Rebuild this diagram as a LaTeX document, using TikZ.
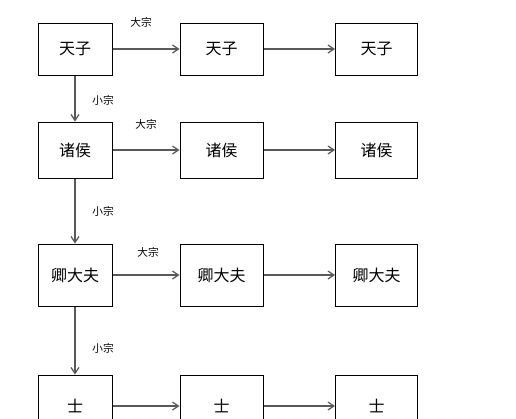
\documentclass[tikz,border=0pt]{standalone}
\usepackage{fontspec}
\newfontfamily\cjk{Noto Sans CJK SC}
\usetikzlibrary{arrows.meta}

\begin{document}
\begin{tikzpicture}[x=0.75pt,y=-0.75pt,
  rank/.style={draw,line width=0.75pt,inner sep=0pt,font=\cjk\fontsize{12}{14}\selectfont},
  link/.style={draw=black!65,line width=0.9pt,-{Straight Barb[length=4.5pt,width=6pt]}},
  tag/.style={font=\cjk\fontsize{8}{10}\selectfont}]
\clip (0,0) rectangle (516,418);
\fill[white] (0,0) rectangle (516,418);

\foreach \r/\y/\h/\t in {1/49/52/天子, 2/150/56/诸侯, 3/275/62/卿大夫, 4/406/62/士}{
    \node[rank, minimum width=74*0.75pt, minimum height=\h*0.75pt] (a\r) at (75,\y) {\t};
    \node[rank, minimum width=83*0.75pt, minimum height=\h*0.75pt] (b\r) at (221.5,\y) {\t};
    \node[rank, minimum width=82*0.75pt, minimum height=\h*0.75pt] (c\r) at (376.5,\y) {\t};
}

\foreach \r in {1,2,3,4}{
    \draw[link] (a\r) -- (b\r);
    \draw[link] (b\r) -- (c\r);
}
\foreach \r/\s in {1/2,2/3,3/4}
    \draw[link] (a\r) -- (a\s);

\node[tag] (big1) at (141,22) {大宗};
\node[tag] (big2) at (146,124) {大宗};
\node[tag] (big3) at (148,252) {大宗};
\node[tag] (small1) at (103,100) {小宗};
\node[tag] (small2) at (103,211) {小宗};
\node[tag] (small3) at (103,348) {小宗};
\end{tikzpicture}
\end{document}
